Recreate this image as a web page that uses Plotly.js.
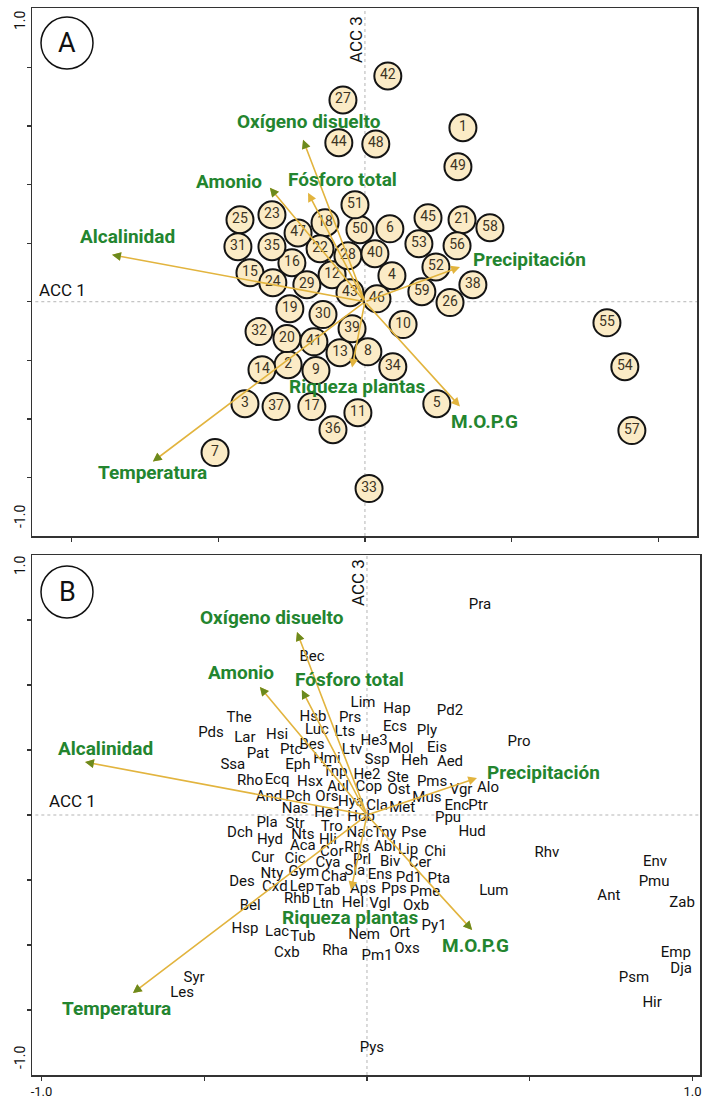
<!DOCTYPE html>
<html>
<head>
<meta charset="utf-8">
<script src="https://cdn.plot.ly/plotly-3.0.1.min.js"></script>
<style>html,body{margin:0;padding:0;background:#fff;}#chart{width:704px;height:1099px;}</style>
</head>
<body>
<div id="chart"></div>
<script>
// ---------- DATA ----------
// Environmental variables (biplot arrows)
const envNames = ['Oxígeno disuelto','Amonio','Fósforo total','Alcalinidad','Precipitación','Temperatura','Riqueza plantas','M.O.P.G'];
// Panel A arrow tips
const envAx = [-0.211,-0.324,-0.194,-0.862,0.324,-0.723,-0.044,0.324];
const envAy = [0.553,0.389,0.372,0.160,0.119,-0.546,-0.225,-0.358];
// Panel A label positions
const envAlabX = [-0.191,-0.464,-0.078,-0.808,0.562,-0.723,-0.027,0.409];
const envAlabY = [0.614,0.410,0.416,0.222,0.143,-0.584,-0.290,-0.410];
// Panel B arrow tips
const envBx = [-0.215,-0.329,-0.200,-0.866,0.338,-0.719,-0.049,0.323];
const envBy = [0.563,0.394,0.385,0.163,0.114,-0.548,-0.231,-0.354];
// Panel B label positions
const envBlabX = [-0.292,-0.387,-0.055,-0.802,0.541,-0.768,-0.052,0.332];
const envBlabY = [0.609,0.437,0.418,0.206,0.132,-0.594,-0.314,-0.400];

// Panel A: sites
const siteIds = ['1','2','3','4','5','6','7','8','9','10','11','12','13','14','15','16','17','18','19','20',
 '21','22','23','24','25','26','27','28','29','30','31','32','33','34','35','36','37','38','39','40',
 '41','42','43','44','45','46','47','48','49','50','51','52','53','54','55','56','57','58','59'];
const siteX = [0.334,-0.262,-0.409,0.092,0.245,0.085,-0.511,0.010,-0.167,0.130,-0.024,-0.112,-0.085,-0.351,-0.392,-0.249,-0.181,-0.136,-0.256,-0.266,
 0.331,-0.153,-0.317,-0.314,-0.426,0.290,-0.075,-0.058,-0.198,-0.143,-0.433,-0.361,0.014,0.095,-0.317,-0.109,-0.303,0.368,-0.044,0.034,
 -0.174,0.078,-0.051,-0.089,0.215,0.041,-0.228,0.037,0.317,-0.017,-0.034,0.242,0.184,0.886,0.825,0.314,0.910,0.426,0.194];
const siteY = [0.594,-0.215,-0.348,0.089,-0.348,0.249,-0.515,-0.171,-0.235,-0.078,-0.379,0.092,-0.174,-0.232,0.099,0.133,-0.358,0.270,-0.024,-0.126,
 0.280,0.181,0.297,0.065,0.280,-0.003,0.689,0.157,0.058,-0.044,0.188,-0.102,-0.638,-0.222,0.188,-0.437,-0.358,0.058,-0.092,0.164,
 -0.137,0.771,0.031,0.543,0.287,0.010,0.235,0.539,0.461,0.246,0.331,0.119,0.198,-0.222,-0.072,0.191,-0.440,0.253,0.034];

// Panel B: species
const spNames = ['Pra','Bec','Lim','Hap','Pd2','The','Hsb','Prs','Pds','Lar','Hsi','Luc','Lts','Ecs','Ply','He3','Pro','Pat','Ptc','Bes',
 'Mol','Eis','Ltv','Hmi','Ssp','Heh','Aed','Ssa','Eph','Tnp','He2','Ste','Pms','Rho','Ecq','Hsx','Aul','Cop','Ost','Vgr',
 'Alo','And','Pch','Ors','Mus','Hya','Cla','Met','Enc','Ptr','Nas','He1','Hob','Ppu','Pla','Str','Tro','Dch','Nts','Nac',
 'Tny','Pse','Hud','Hyd','Hli','Aca','Rhs','Abl','Lip','Chi','Cor','Rhv','Cur','Cic','Prl','Biv','Cer','Env','Cya','Sla',
 'Gym','Nty','Ens','Cha','Pd1','Pta','Pmu','Des','Cxd','Lep','Aps','Pps','Tab','Lum','Pme','Ant','Rhb','Hel','Zab','Ltn',
 'Vgl','Oxb','Bel','Py1','Hsp','Lac','Ort','Nem','Tub','Oxs','Rha','Cxb','Emp','Pm1','Dja','Syr','Psm','Les','Hir','Pys'];
const spX = [0.347,-0.169,-0.012,0.092,0.255,-0.393,-0.166,-0.052,-0.479,-0.375,-0.276,-0.154,-0.068,0.086,0.184,0.022,0.467,-0.335,-0.233,-0.169,
 0.104,0.215,-0.046,-0.123,0.031,0.147,0.255,-0.412,-0.212,-0.098,0.000,0.095,0.200,-0.359,-0.276,-0.175,-0.089,0.006,0.098,0.289,
 0.372,-0.301,-0.212,-0.123,0.184,-0.049,0.031,0.108,0.276,0.341,-0.221,-0.120,-0.018,0.249,-0.307,-0.221,-0.108,-0.390,-0.197,-0.022,
 0.055,0.144,0.323,-0.298,-0.120,-0.197,-0.031,0.055,0.126,0.209,-0.108,0.553,-0.320,-0.221,-0.015,0.071,0.163,0.885,-0.120,-0.037,
 -0.194,-0.292,0.040,-0.101,0.129,0.221,0.882,-0.384,-0.283,-0.200,-0.012,0.083,-0.120,0.390,0.178,0.743,-0.215,-0.043,0.968,-0.135,
 0.040,0.151,-0.359,0.206,-0.375,-0.276,0.101,-0.009,-0.197,0.123,-0.098,-0.246,0.949,0.031,0.965,-0.531,0.820,-0.568,0.876,0.015];
const spY = [0.646,0.486,0.345,0.326,0.320,0.298,0.302,0.298,0.252,0.237,0.246,0.262,0.255,0.271,0.258,0.228,0.225,0.188,0.200,0.215,
 0.203,0.206,0.200,0.172,0.169,0.166,0.163,0.154,0.154,0.132,0.123,0.114,0.102,0.105,0.108,0.102,0.086,0.086,0.077,0.077,
 0.083,0.055,0.055,0.055,0.052,0.040,0.028,0.022,0.028,0.028,0.018,0.006,-0.006,-0.009,-0.025,-0.028,-0.037,-0.055,-0.062,-0.055,
 -0.055,-0.055,-0.052,-0.077,-0.077,-0.095,-0.102,-0.098,-0.108,-0.114,-0.114,-0.117,-0.132,-0.135,-0.138,-0.145,-0.148,-0.145,-0.148,-0.172,
 -0.175,-0.182,-0.185,-0.191,-0.194,-0.197,-0.206,-0.206,-0.222,-0.222,-0.228,-0.228,-0.234,-0.234,-0.237,-0.249,-0.258,-0.271,-0.271,-0.274,
 -0.274,-0.280,-0.280,-0.342,-0.351,-0.360,-0.363,-0.369,-0.375,-0.412,-0.418,-0.425,-0.425,-0.434,-0.474,-0.502,-0.502,-0.548,-0.578,-0.717];

// Axis tick values
const xTicks = [-1.0,-0.5,0,0.5,1.0];
const xTickTextB = ['-1.0','','','','1.0'];
const yTicksA = [-0.6,-0.4,-0.2,0,0.2,0.4,0.6,0.8];
const yTicksB = [-0.6,-0.4,-0.2,0,0.2,0.4,0.6];

// ---------- STYLE ----------
const W = 704, H = 1099;
const FONT = 'Roboto, "DejaVu Sans", sans-serif';
const GREEN = '#23852f';
const GOLD = '#e2b43e';
const HEAD = '#6b8a1e';
const FRAME = '#333333';
const px = v => v / W;
const py = v => 1 - v / H;

const traces = [
  {
    x: siteX, y: siteY, text: siteIds, type: 'scatter', mode: 'markers+text',
    xaxis: 'x', yaxis: 'y', textposition: 'middle center',
    marker: {size: 27, color: '#fbebc6', line: {color: '#141414', width: 2}},
    textfont: {family: FONT, size: 14, color: '#3b3323'},
    hoverinfo: 'none', showlegend: false, cliponaxis: false
  },
  {
    x: spX, y: spY, text: spNames, type: 'scatter', mode: 'text',
    xaxis: 'x2', yaxis: 'y2', textposition: 'middle center',
    textfont: {family: FONT, size: 15, color: '#111111'},
    hoverinfo: 'none', showlegend: false, cliponaxis: false
  }
];

const annotations = [];
const shapes = [];

function addArrows(tx, ty, lx, ly, xr, yr) {
  for (let i = 0; i < envNames.length; i++) {
    annotations.push({
      x: tx[i], y: ty[i], ax: 0, ay: 0, xref: xr, yref: yr, axref: xr, ayref: yr,
      text: '', showarrow: true, arrowhead: 2, arrowsize: 1.1, arrowwidth: 1.6,
      arrowcolor: GOLD, standoff: 0
    });
    annotations.push({
      x: tx[i], y: ty[i], ax: tx[i] * 0.97, ay: ty[i] * 0.97, xref: xr, yref: yr, axref: xr, ayref: yr,
      text: '', showarrow: true, arrowhead: 2, arrowsize: 1.1, arrowwidth: 1.6,
      arrowcolor: HEAD, standoff: 0
    });
    annotations.push({
      x: lx[i], y: ly[i], xref: xr, yref: yr, text: '<b>' + envNames[i] + '</b>',
      showarrow: false, font: {family: FONT, size: 19, color: GREEN},
      xanchor: 'center', yanchor: 'middle'
    });
  }
}
addArrows(envAx, envAy, envAlabX, envAlabY, 'x', 'y');
addArrows(envBx, envBy, envBlabX, envBlabY, 'x2', 'y2');

// zero (dotted) lines
[['x','y'],['x2','y2']].forEach(([xr, yr]) => {
  shapes.push({type: 'line', xref: xr + ' domain', yref: yr, x0: 0.005, x1: 1, y0: 0, y1: 0,
    line: {color: '#b5b5b5', width: 1, dash: 'dot'}, layer: 'below'});
  shapes.push({type: 'line', xref: xr, yref: yr + ' domain', x0: 0, x1: 0, y0: 0, y1: 1,
    line: {color: '#b5b5b5', width: 1, dash: 'dot'}, layer: 'below'});
});

// panel letters
[[67, 43, 'A'], [67, 592, 'B']].forEach(([cx, cy, t]) => {
  shapes.push({type: 'circle', xref: 'paper', yref: 'paper',
    x0: px(cx - 26), x1: px(cx + 26), y0: py(cy + 26), y1: py(cy - 26),
    line: {color: '#111', width: 1.5}, fillcolor: 'rgba(0,0,0,0)'});
  annotations.push({x: px(cx), y: py(cy), xref: 'paper', yref: 'paper', text: t, showarrow: false,
    font: {family: FONT, size: 27, color: '#111'}, xanchor: 'center', yanchor: 'middle'});
});

// axis name labels
[[62, 290, 356, 40], [72, 801, 358, 583]].forEach(([x1, y1, x3, y3]) => {
  annotations.push({x: px(x1), y: py(y1), xref: 'paper', yref: 'paper', text: 'ACC 1', showarrow: false,
    font: {family: FONT, size: 17, color: '#111'}, xanchor: 'center', yanchor: 'middle'});
  annotations.push({x: px(x3), y: py(y3), xref: 'paper', yref: 'paper', text: 'ACC 3', showarrow: false,
    textangle: -90, font: {family: FONT, size: 17, color: '#111'}, xanchor: 'center', yanchor: 'middle'});
});

// y-axis end labels
[[20, '1.0'], [517, '-1.0'], [565, '1.0'], [1058, '-1.0']].forEach(([yy, t]) => {
  annotations.push({x: px(20), y: py(yy), xref: 'paper', yref: 'paper', text: t, showarrow: false,
    textangle: -90, font: {family: FONT, size: 14, color: '#111'}, xanchor: 'center', yanchor: 'middle'});
});

const axBase = {
  showline: true, mirror: true, linecolor: FRAME, linewidth: 1.5,
  showgrid: false, zeroline: false, ticks: 'outside', ticklen: 4, tickwidth: 1.3, tickcolor: FRAME,
  tickmode: 'array', fixedrange: true, tickfont: {family: FONT, size: 13, color: '#111'}
};

const layout = {
  width: W, height: H,
  margin: {l: 0, r: 0, t: 0, b: 0},
  paper_bgcolor: '#ffffff', plot_bgcolor: '#ffffff',
  showlegend: false,
  xaxis: Object.assign({}, axBase, {domain: [px(32), px(697)], range: [-1.135, 1.132], anchor: 'y',
    tickvals: xTicks, ticktext: ['', '', '', '', '']}),
  yaxis: Object.assign({}, axBase, {domain: [py(536), py(8)], range: [-0.800, 1.003], anchor: 'x',
    tickvals: yTicksA, ticktext: yTicksA.map(() => '')}),
  xaxis2: Object.assign({}, axBase, {domain: [px(32), px(700)], range: [-1.029, 1.023], anchor: 'y2',
    tickvals: xTicks, ticktext: xTickTextB, ticklabelstandoff: 0}),
  yaxis2: Object.assign({}, axBase, {domain: [py(1075), py(555)], range: [-0.8, 0.8], anchor: 'x2',
    tickvals: yTicksB, ticktext: yTicksB.map(() => '')}),
  annotations: annotations,
  shapes: shapes
};

Plotly.newPlot('chart', traces, layout, {displayModeBar: false, staticPlot: true});
</script>
</body>
</html>
